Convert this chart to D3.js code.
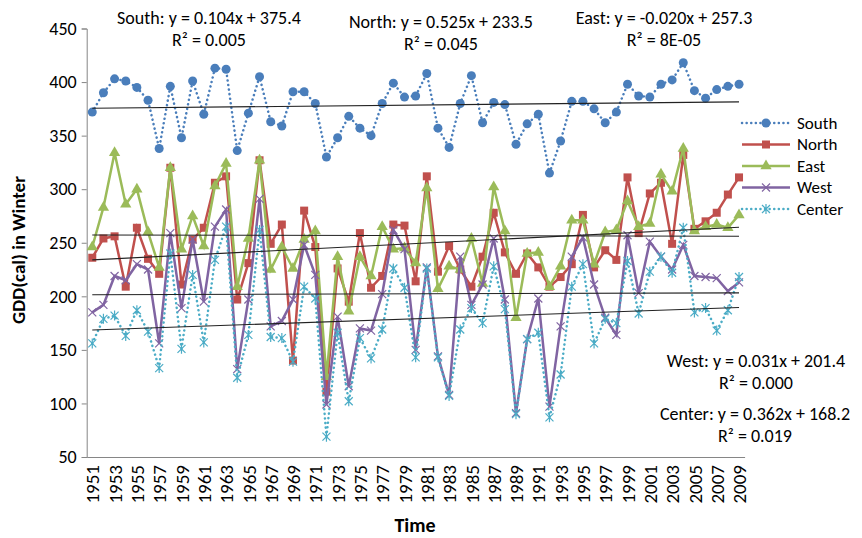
<!DOCTYPE html>
<html>
<head>
<meta charset="utf-8">
<script src="https://cdn.jsdelivr.net/npm/d3@7"></script>
<style>
body { margin:0; background:#fff; }
text { font-family: Carlito, Lato, "Liberation Sans", sans-serif; fill:#000; }
</style>
</head>
<body>
<div id="graph"></div>
<script>
// GDD(cal) in winter, 1951-2009
var years = d3.range(1951, 2010);
var labelYears = years.filter(function(d){ return (d - 1951) % 2 === 0; });
var yTicks = [50, 100, 150, 200, 250, 300, 350, 400, 450];

var south = [372,390,403,401,395,383,338,396,348,401,
             370,413,412,336,371,405,363,359,391,391,
             380,330,348,368,357,350,380,399,386,387,
             408,357,339,380,406,362,381,379,342,361,
             370,315,345,382,382,375,362,372,398,387,
             386,398,402,418,392,385,393,396,398];
var north = [236,254,256,209,264,235,221,320,211,253,
             264,306,312,197,231,327,249,267,140,280,
             246,111,226,195,259,208,219,267,266,214,
             312,223,247,225,209,237,278,241,221,240,
             227,209,218,230,276,227,243,234,311,259,
             296,306,249,332,263,270,278,295,311];
var east  = [246,283,334,286,300,260,227,320,244,275,
             247,303,324,209,254,327,225,246,226,253,
             261,125,237,186,237,219,265,244,245,231,
             301,207,228,225,254,212,302,261,180,240,
             241,209,228,271,271,230,260,262,289,265,
             268,314,298,338,261,265,267,264,276];
var west  = [185,192,219,215,230,225,156,259,189,253,
             195,265,281,132,197,291,172,177,197,248,
             220,99,181,116,170,168,202,262,244,150,
             227,144,108,237,192,211,254,197,91,160,
             198,97,172,237,255,211,180,164,257,203,
             251,237,225,248,219,218,217,205,213];
var center = [156,179,182,163,187,167,133,240,151,220,
              157,234,265,124,164,262,162,161,139,209,
              198,69,166,102,161,142,169,226,208,143,
              226,143,107,169,189,175,228,188,90,160,
              166,87,127,209,230,156,179,175,233,184,
              223,237,222,264,185,189,168,187,218];

var seriesNames = ["South", "North", "East", "West", "Center"];
var seriesColors = ["#4A7EBB", "#C0504D", "#9BBB59", "#8064A2", "#4BACC6"];
// trendline y = slope*x + intercept, x = 1..59
var slopes = [0.104, 0.525, -0.020, 0.031, 0.362];
var intercepts = [375.4, 233.5, 257.3, 201.4, 168.2];
var eqLabels = [
  ["South: y = 0.104x + 375.4", "R\u00B2 = 0.005"],
  ["North: y = 0.525x + 233.5", "R\u00B2 = 0.045"],
  ["East: y = -0.020x + 257.3", "R\u00B2 = 8E-05"],
  ["West: y = 0.031x + 201.4", "R\u00B2 = 0.000"],
  ["Center: y = 0.362x + 168.2", "R\u00B2 = 0.019"]
];
var eqPos = [[209, 24], [441, 28], [664, 24], [756, 367], [755, 420]];

var allData = [south, north, east, west, center];

var svg = d3.select("#graph").append("svg").attr("width", 862).attr("height", 538);

var x = d3.scalePoint().domain(years).range([86.7, 744.6]).padding(0.5);
var y = d3.scaleLinear().domain([50, 450]).range([457, 28.5]);

// axes
var yAxis = d3.axisLeft(y).tickValues(yTicks).tickSize(5).tickPadding(5);
var gy = svg.append("g").attr("transform", "translate(86.7,0)").call(yAxis);
gy.select(".domain").attr("stroke", "#868686");
gy.selectAll(".tick line").attr("stroke", "#868686");
gy.selectAll("text").attr("font-size", 18).style("font-family", "Carlito, Lato, sans-serif");

var xAxis = d3.axisBottom(x).tickValues(labelYears).tickSize(0).tickPadding(0);
var gx = svg.append("g").attr("transform", "translate(0,457)").call(xAxis);
gx.select(".domain").attr("stroke", "#868686");
gx.selectAll("text")
  .attr("font-size", 19)
  .style("font-family", "Carlito, Lato, sans-serif")
  .attr("text-anchor", "end")
  .attr("transform", "rotate(-90)")
  .attr("x", -8).attr("y", 0).attr("dy", "0.35em");

svg.append("text")
  .attr("transform", "translate(25,250) rotate(-90)")
  .attr("text-anchor", "middle")
  .attr("font-size", 19).attr("font-weight", "bold")
  .text("GDD(cal) in Winter");

svg.append("text")
  .attr("x", 415).attr("y", 532)
  .attr("text-anchor", "middle")
  .attr("font-size", 20).attr("font-weight", "bold")
  .text("Time");

// series lines
var line = d3.line()
  .x(function(d, i){ return x(years[i]); })
  .y(function(d){ return y(d); });

function marker(g, k, color){
  if (k === 0) {
    g.append("circle").attr("r", 4.5).attr("fill", color);
  } else if (k === 1) {
    g.append("rect").attr("x", -4).attr("y", -4).attr("width", 8).attr("height", 8)
      .attr("fill", color);
  } else if (k === 2) {
    g.append("path").attr("d", d3.symbol().type(d3.symbolTriangle).size(55)()).attr("fill", color);
  } else if (k === 3) {
    g.append("path").attr("d", "M-4,-4L4,4M-4,4L4,-4").attr("stroke", color).attr("stroke-width", 1.2).attr("fill", "none");
  } else {
    g.append("path").attr("d", "M-4,-4L4,4M-4,4L4,-4M0,-5L0,5").attr("stroke", color).attr("stroke-width", 1.2).attr("fill", "none");
  }
}

allData.forEach(function(data, k){
  var color = seriesColors[k];
  var dotted = (k === 0 || k === 4);
  svg.append("path")
    .datum(data)
    .attr("fill", "none")
    .attr("stroke", color)
    .attr("stroke-width", 2.5)
    .attr("stroke-linecap", dotted ? "round" : "butt")
    .attr("stroke-dasharray", dotted ? "0.1,4.5" : null)
    .attr("d", line);
  svg.append("g").selectAll("g")
    .data(data)
    .enter().append("g")
    .attr("transform", function(d, i){ return "translate(" + x(years[i]) + "," + y(d) + ")"; })
    .each(function(){ marker(d3.select(this), k, color); });
});

// trendlines
slopes.forEach(function(s, k){
  svg.append("line")
    .attr("x1", x(years[0])).attr("x2", x(years[years.length - 1]))
    .attr("y1", y(s * 1 + intercepts[k]))
    .attr("y2", y(s * years.length + intercepts[k]))
    .attr("stroke", "#222").attr("stroke-width", 1.1);
});

// equations
eqLabels.forEach(function(lbl, k){
  var t = svg.append("text").attr("text-anchor", "middle").attr("font-size", 18);
  t.append("tspan").attr("x", eqPos[k][0]).attr("y", eqPos[k][1]).text(lbl[0]);
  t.append("tspan").attr("x", eqPos[k][0]).attr("y", eqPos[k][1] + 22).text(lbl[1]);
});

// legend
var legend = svg.append("g").attr("transform", "translate(742,123)");
seriesNames.forEach(function(name, k){
  var row = legend.append("g").attr("transform", "translate(0," + (k * 21.5) + ")");
  var dotted = (k === 0 || k === 4);
  row.append("line").attr("x1", 0).attr("x2", 48).attr("y1", 0).attr("y2", 0)
    .attr("stroke", seriesColors[k]).attr("stroke-width", 2.5)
    .attr("stroke-linecap", dotted ? "round" : "butt")
    .attr("stroke-dasharray", dotted ? "0.1,4.5" : null);
  marker(row.append("g").attr("transform", "translate(24,0)"), k, seriesColors[k]);
  row.append("text").attr("x", 55).attr("y", 0).attr("dy", "0.35em")
    .attr("font-size", 17).text(name);
});
</script>
</body>
</html>
